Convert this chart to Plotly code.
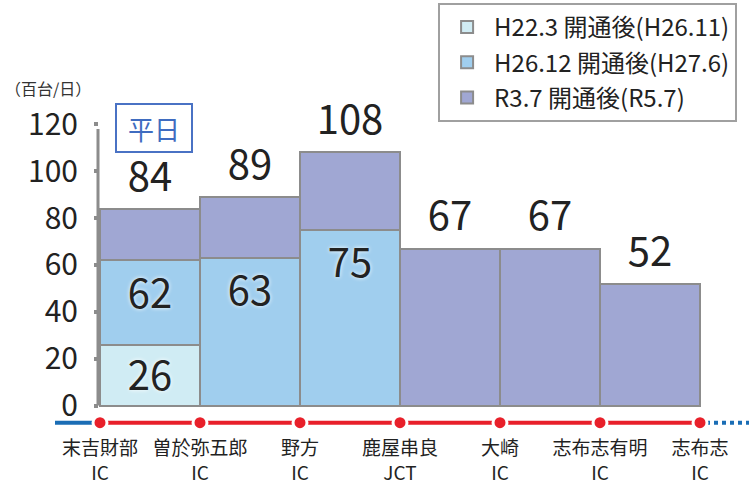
import plotly.graph_objects as go

# ---- data ----
ic_labels = ["末吉財部<br>IC", "曽於弥五郎<br>IC", "野方<br>IC", "鹿屋串良<br>JCT",
             "大崎<br>IC", "志布志有明<br>IC", "志布志<br>IC"]
series_names = ["H22.3 開通後(H26.11)", "H26.12 開通後(H27.6)", "R3.7 開通後(R5.7)"]
vals_h22 = [26]
vals_h26 = [62, 63, 75]
vals_r3 = [84, 89, 108, 67, 67, 52]
y_ticks = [0, 20, 40, 60, 80, 100, 120]

colors = ["#d0ecf4", "#a0ceee", "#a0a7d3"]
edge = "#8c8c8c"
font_jp = "Noto Sans CJK JP"

def centers(n):
    return [i + 0.5 for i in range(n)]

fig = go.Figure()

# bars (drawn bottom to top)
for rank, name, vals, col in [(3, series_names[2], vals_r3, colors[2]),
                              (2, series_names[1], vals_h26, colors[1]),
                              (1, series_names[0], vals_h22, colors[0])]:
    fig.add_trace(go.Bar(x=centers(len(vals)), y=vals, width=1, name=name,
                         legendgroup=name, legendrank=rank,
                         marker=dict(color=col, line=dict(color=edge, width=2)),
                         hoverinfo="skip"))

# value labels
fig.add_trace(go.Scatter(x=centers(len(vals_r3)), y=[v + 12 for v in vals_r3],
                         mode="text", text=[str(v) for v in vals_r3],
                         textposition="middle center", showlegend=False,
                         textfont=dict(size=40, color="#222", family=font_jp),
                         hoverinfo="skip", cliponaxis=False))
fig.add_trace(go.Scatter(x=centers(len(vals_h26)), y=[v - 16 for v in vals_h26],
                         mode="text", text=[str(v) for v in vals_h26],
                         textposition="middle center", showlegend=False,
                         textfont=dict(size=40, color="#222", family=font_jp,
                                       shadow="0px 0px 4px #ffffff"),
                         hoverinfo="skip"))
fig.add_trace(go.Scatter(x=centers(len(vals_h22)), y=[v / 2 - 2 for v in vals_h22],
                         mode="text", text=[str(v) for v in vals_h22],
                         textposition="middle center", showlegend=False,
                         textfont=dict(size=40, color="#222", family=font_jp,
                                       shadow="0px 0px 4px #ffffff"),
                         hoverinfo="skip"))

# route line under the chart
route_y = -7.3
n_ic = len(ic_labels)
fig.add_trace(go.Scatter(x=[-0.45, -0.04], y=[route_y, route_y], mode="lines",
                         line=dict(color="#1a6db5", width=4), showlegend=False, hoverinfo="skip"))
fig.add_trace(go.Scatter(x=[6.06, 6.49], y=[route_y, route_y], mode="lines",
                         line=dict(color="#1a6db5", width=4, dash="dot"), showlegend=False, hoverinfo="skip"))
fig.add_trace(go.Scatter(x=[0, n_ic - 1], y=[route_y, route_y], mode="lines",
                         line=dict(color="#e8202a", width=4), showlegend=False, hoverinfo="skip"))
fig.add_trace(go.Scatter(x=list(range(n_ic)), y=[route_y] * n_ic, mode="markers",
                         marker=dict(color="#e8202a", size=14, line=dict(color="white", width=3)),
                         showlegend=False, hoverinfo="skip"))

# y axis line
fig.add_shape(type="line", xref="x", yref="y", x0=-0.02, x1=-0.02, y0=0, y1=118,
              line=dict(color=edge, width=3))

fig.update_layout(
    width=749, height=486,
    margin=dict(l=55, r=0, t=122, b=57, autoexpand=False),
    paper_bgcolor="white", plot_bgcolor="white",
    barmode="overlay", bargap=0,
    font=dict(family=font_jp, color="#222"),
    showlegend=True,
    legend=dict(x=0.552, y=1.388, xanchor="left", yanchor="top",
                traceorder="grouped", bordercolor="#a0a0a0", borderwidth=2,
                bgcolor="white", font=dict(size=24, color="#222", family=font_jp),
                tracegroupgap=1, itemwidth=44),
    xaxis=dict(range=[-0.45, 6.49], tickmode="array", tickvals=list(range(n_ic)),
               ticktext=ic_labels, showgrid=False, zeroline=False, showline=False,
               automargin=False, ticklabelstandoff=6,
               ticks="", tickfont=dict(size=19, color="#222", family=font_jp)),
    yaxis=dict(range=[-10, 121], tickmode="array", tickvals=y_ticks,
               ticktext=[str(v) for v in y_ticks], showgrid=False, zeroline=False,
               showline=False, anchor="free", position=(0.45 - 0.02) / 6.94,
               automargin=False,
               ticks="outside", ticklen=4, tickwidth=4, tickcolor=edge,
               ticklabelstandoff=10,
               tickfont=dict(size=30, color="#222", family=font_jp)),
    annotations=[
        dict(text="（百台/日）", xref="paper", yref="paper", x=-0.01, y=1.11,
             xanchor="center", yanchor="middle",
             showarrow=False, font=dict(size=16, color="#333", family=font_jp)),
        dict(text="平日", xref="paper", yref="paper", x=0.1427, y=0.980,
             xanchor="center", yanchor="middle",
             showarrow=False, width=70, height=42, borderpad=2,
             bordercolor="#4a72c4", borderwidth=2, bgcolor="white",
             font=dict(size=26, color="#3f6cc0", family=font_jp)),
    ],
)

fig.write_html("out.html", config={"displayModeBar": False},
               post_script="document.body.style.margin='0';")
